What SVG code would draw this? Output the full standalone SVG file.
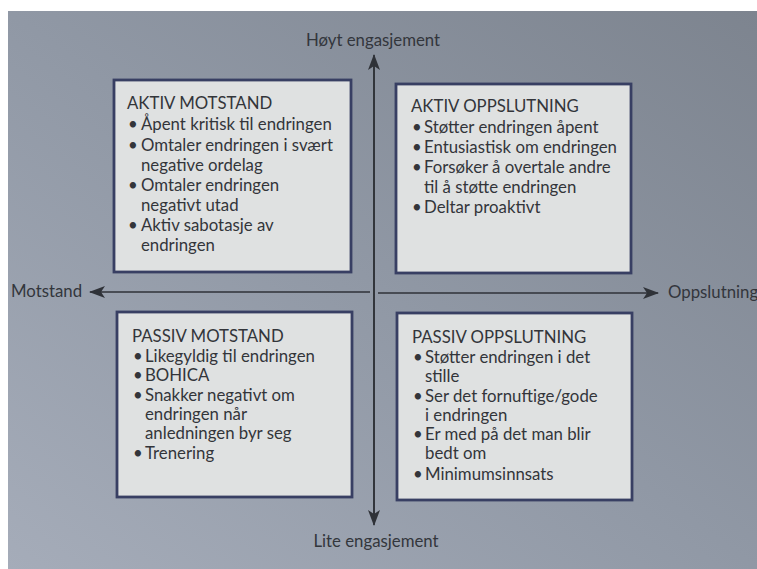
<svg xmlns="http://www.w3.org/2000/svg" width="757" height="569" viewBox="0 0 757 569">
  <defs>
    <linearGradient id="page" x1="1" y1="0" x2="0" y2="1">
      <stop offset="0" stop-color="#7d848f"/>
      <stop offset="0.5" stop-color="#9098a5"/>
      <stop offset="1" stop-color="#a5acb9"/>
    </linearGradient>
    <marker id="head" viewBox="0 0 16 12" refX="15" refY="6" markerWidth="16" markerHeight="12" markerUnits="userSpaceOnUse" orient="auto-start-reverse">
      <path d="M0,0 L16,6 L0,12 L4,6 Z" fill="#2f3238"/>
    </marker>
    <style>
      .box { fill: #dfe1e1; stroke: #383f63; stroke-width: 2.8; }
      .txt { font-family: Lato, "Liberation Sans", sans-serif; font-size: 16.8px; fill: #33353a; }
      .axis-label { font-family: Lato, "Liberation Sans", sans-serif; font-size: 16.8px; fill: #33363c; }
      .axis { stroke: #2f3238; stroke-width: 1.6; fill: none; }
    </style>
  </defs>

  <!-- page -->
  <rect x="0" y="0" width="757" height="569" fill="#ffffff"/>
  <rect x="8" y="11" width="749" height="558" fill="url(#page)"/>

  <!-- axes -->
  <g id="connectors">
    <line class="axis" x1="374" y1="522" x2="374" y2="55" marker-end="url(#head)"/>
    <line class="axis" x1="374" y1="58" x2="374" y2="525" marker-end="url(#head)"/>
    <line class="axis" x1="370" y1="292" x2="90" y2="292" marker-end="url(#head)"/>
    <line class="axis" x1="378" y1="293" x2="658" y2="293" marker-end="url(#head)"/>
  </g>

  <g id="label-high"><text class="axis-label" x="373" y="46" text-anchor="middle">Høyt engasjement</text></g>
  <g id="label-low"><text class="axis-label" x="376" y="547" text-anchor="middle">Lite engasjement</text></g>
  <g id="label-resist"><text class="axis-label" x="11" y="297">Motstand</text></g>
  <g id="label-support"><text class="axis-label" x="668" y="298">Oppslutning</text></g>

  <!-- top-left quadrant -->
  <g id="aktiv-motstand">
    <rect class="box" x="114" y="80" width="237" height="192"/>
    <text class="txt" x="127" y="109">AKTIV MOTSTAND</text>
    <text class="txt" x="128" y="130">•</text><text class="txt" x="141" y="130">Åpent kritisk til endringen</text>
    <text class="txt" x="128" y="151">•</text><text class="txt" x="141" y="151">Omtaler endringen i svært</text>
    <text class="txt" x="141" y="171">negative ordelag</text>
    <text class="txt" x="128" y="191">•</text><text class="txt" x="141" y="191">Omtaler endringen</text>
    <text class="txt" x="141" y="211">negativt utad</text>
    <text class="txt" x="128" y="231">•</text><text class="txt" x="141" y="231">Aktiv sabotasje av</text>
    <text class="txt" x="141" y="251">endringen</text>
  </g>

  <!-- top-right quadrant -->
  <g id="aktiv-oppslutning">
    <rect class="box" x="396" y="84" width="235" height="189"/>
    <text class="txt" x="411" y="112">AKTIV OPPSLUTNING</text>
    <text class="txt" x="412" y="133">•</text><text class="txt" x="424" y="133">Støtter endringen åpent</text>
    <text class="txt" x="412" y="153">•</text><text class="txt" x="424" y="153">Entusiastisk om endringen</text>
    <text class="txt" x="412" y="173">•</text><text class="txt" x="424" y="173">Forsøker å overtale andre</text>
    <text class="txt" x="424" y="193">til å støtte endringen</text>
    <text class="txt" x="412" y="213">•</text><text class="txt" x="424" y="213">Deltar proaktivt</text>
  </g>

  <!-- bottom-left quadrant -->
  <g id="passiv-motstand">
    <rect class="box" x="117" y="312" width="235" height="185"/>
    <text class="txt" x="132" y="342">PASSIV MOTSTAND</text>
    <text class="txt" x="133" y="362">•</text><text class="txt" x="145" y="362">Likegyldig til endringen</text>
    <text class="txt" x="133" y="381">•</text><text class="txt" x="145" y="381">BOHICA</text>
    <text class="txt" x="133" y="401">•</text><text class="txt" x="145" y="401">Snakker negativt om</text>
    <text class="txt" x="145" y="420">endringen når</text>
    <text class="txt" x="145" y="439">anledningen byr seg</text>
    <text class="txt" x="133" y="459">•</text><text class="txt" x="145" y="459">Trenering</text>
  </g>

  <!-- bottom-right quadrant -->
  <g id="passiv-oppslutning">
    <rect class="box" x="397" y="313" width="235" height="187"/>
    <text class="txt" x="412" y="343">PASSIV OPPSLUTNING</text>
    <text class="txt" x="413" y="363">•</text><text class="txt" x="425" y="363">Støtter endringen i det</text>
    <text class="txt" x="425" y="382">stille</text>
    <text class="txt" x="413" y="402">•</text><text class="txt" x="425" y="402">Ser det fornuftige/gode</text>
    <text class="txt" x="425" y="421">i endringen</text>
    <text class="txt" x="413" y="440">•</text><text class="txt" x="425" y="440">Er med på det man blir</text>
    <text class="txt" x="425" y="459">bedt om</text>
    <text class="txt" x="413" y="480">•</text><text class="txt" x="425" y="480">Minimumsinnsats</text>
  </g>
</svg>
